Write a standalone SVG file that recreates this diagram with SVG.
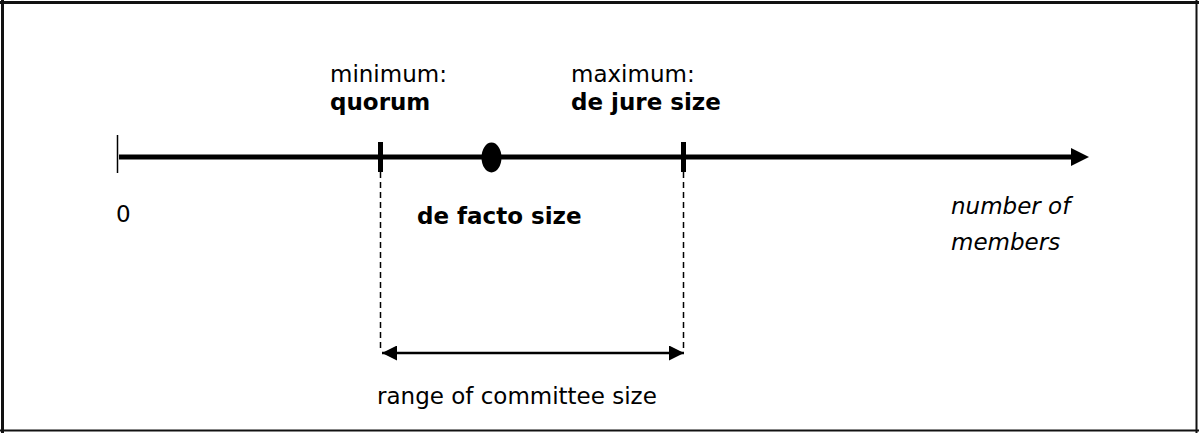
<svg xmlns="http://www.w3.org/2000/svg" width="1199" height="433" viewBox="0 0 1199 433">
<defs>
<style>
text{font-family:"DejaVu Sans","Liberation Sans",sans-serif;font-size:23px;fill:#000}
.b{font-weight:bold}
.i{font-style:italic}
.dash{stroke:#000;stroke-width:1.5;stroke-dasharray:6 4;fill:none}
</style>
<marker id="ah" viewBox="0 0 10 10" refX="10" refY="5" markerWidth="15" markerHeight="15" markerUnits="userSpaceOnUse" orient="auto-start-reverse">
<path d="M0,0 L10,5 L0,10 Z" fill="#000"/>
</marker>
</defs>
<rect x="0" y="0" width="1199" height="433" fill="#fff"/>
<g id="frame" stroke="#111" fill="none">
<line x1="0" y1="2.5" x2="1199" y2="2.5" stroke-width="3"/>
<line x1="2.5" y1="0" x2="2.5" y2="433" stroke-width="3"/>
<line x1="1196.5" y1="0" x2="1196.5" y2="433" stroke-width="2"/>
<line x1="0" y1="430.5" x2="1199" y2="430.5" stroke-width="2"/>
</g>
<g id="connectors">
<line x1="119" y1="157" x2="1074" y2="157" stroke="#000" stroke-width="5"/>
<path d="M1071,148 L1089,157 L1071,166 Z" fill="#000"/>
<line x1="380.5" y1="172" x2="380.5" y2="352" class="dash"/>
<line x1="683.5" y1="172" x2="683.5" y2="352" class="dash"/>
<line x1="382" y1="353" x2="684" y2="353" stroke="#000" stroke-width="2.5" marker-start="url(#ah)" marker-end="url(#ah)"/>
</g>
<g id="tick-zero">
<line x1="117.5" y1="135" x2="117.5" y2="173" stroke="#000" stroke-width="1.5"/>
<text x="116" y="222">0</text>
</g>
<g id="tick-quorum">
<line x1="380.5" y1="142" x2="380.5" y2="172" stroke="#000" stroke-width="5"/>
<text x="330" y="82">minimum:</text>
<text x="330" y="110" class="b">quorum</text>
</g>
<g id="tick-dejure">
<line x1="683.5" y1="142" x2="683.5" y2="172" stroke="#000" stroke-width="5"/>
<text x="571" y="82">maximum:</text>
<text x="571" y="110" class="b">de jure size</text>
</g>
<g id="defacto">
<ellipse cx="491.5" cy="157.5" rx="10" ry="15" fill="#000"/>
<text x="417" y="224" class="b">de facto size</text>
</g>
<g id="axis-label">
<text x="951" y="214" class="i">number of</text>
<text x="951" y="250" class="i">members</text>
</g>
<g id="range-label">
<text x="377" y="404">range of committee size</text>
</g>
</svg>
